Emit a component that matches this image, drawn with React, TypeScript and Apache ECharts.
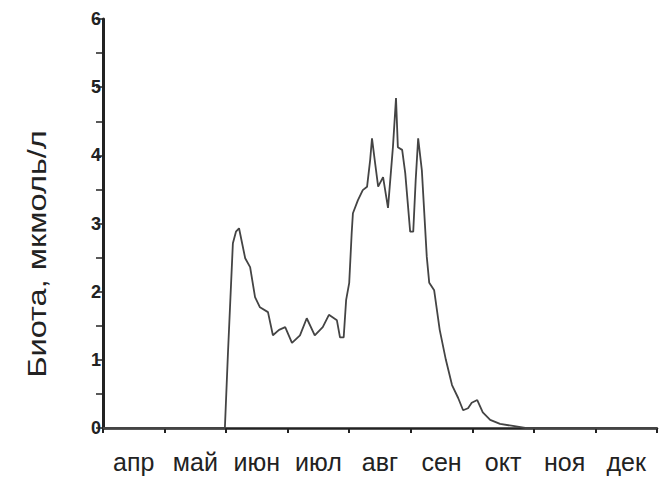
import React, { useEffect, useRef } from "react";
import * as echarts from "echarts";

const months = ["апр", "май", "июн", "июл", "авг", "сен", "окт", "ноя", "дек"];
const yTicks = [0, 1, 2, 3, 4, 5, 6];
// time in months since 1 April
const monthPos = [
  0, 1.98, 2.03, 2.11, 2.16, 2.21, 2.31, 2.39, 2.47, 2.55, 2.68, 2.76, 2.86, 2.96,
  3.07, 3.2, 3.31, 3.44, 3.57, 3.67, 3.8, 3.85, 3.91, 3.95, 4.0, 4.04, 4.06, 4.14,
  4.22, 4.29, 4.34, 4.37, 4.42, 4.47, 4.55, 4.63, 4.71, 4.76, 4.79, 4.86, 4.91,
  4.99, 5.04, 5.08, 5.12, 5.18, 5.26, 5.3, 5.38, 5.47, 5.57, 5.67, 5.77, 5.85,
  5.93, 5.99, 6.08, 6.17, 6.29, 6.45, 6.66, 6.86, 9,
];
// biota, µmol/l
const biota = [
  0, 0, 1.1, 2.71, 2.88, 2.93, 2.49, 2.36, 1.92, 1.77, 1.7, 1.36, 1.44, 1.48,
  1.25, 1.36, 1.61, 1.36, 1.48, 1.66, 1.58, 1.33, 1.33, 1.88, 2.13, 2.86, 3.15, 3.34,
  3.49, 3.54, 3.93, 4.25, 3.89, 3.54, 3.68, 3.23, 4.12, 4.84, 4.12, 4.08, 3.74,
  2.88, 2.88, 3.64, 4.25, 3.78, 2.51, 2.13, 2.02, 1.44, 1.0, 0.63, 0.44, 0.26,
  0.29, 0.37, 0.41, 0.23, 0.12, 0.06, 0.03, 0, 0,
];
const yTitle = "Биота, мкмоль/л";

export default function App() {
  const ref = useRef<HTMLDivElement>(null);
  useEffect(() => {
    const chart = echarts.init(ref.current!, null, { renderer: "svg" });
    const axisColor = "#222222";
    chart.setOption({
      animation: false,
      backgroundColor: "#ffffff",
      grid: { left: 103, top: 19, right: 7, bottom: 51, containLabel: false },
      xAxis: [
        {
          type: "value",
          min: 0,
          max: 9,
          interval: 1,
          axisLine: { show: true, onZero: false, lineStyle: { color: axisColor, width: 2.5 } },
          axisTick: { show: true, length: 5, lineStyle: { color: axisColor, width: 2 } },
          axisLabel: { show: false },
          splitLine: { show: false },
        },
        {
          type: "category",
          data: months,
          boundaryGap: true,
          position: "bottom",
          axisLine: { show: false },
          axisTick: { show: false },
          axisLabel: {
            show: true,
            interval: 0,
            hideOverlap: false,
            margin: 21,
            color: "#222222",
            fontSize: 25,
            fontFamily: "Liberation Sans, Arial, sans-serif",
          },
          splitLine: { show: false },
        },
      ],
      yAxis: {
        type: "value",
        min: 0,
        max: 6,
        interval: 0.5,
        axisLine: { show: true, lineStyle: { color: axisColor, width: 3 } },
        axisTick: { show: true, length: 7, lineStyle: { color: axisColor, width: 1.5 } },
        axisLabel: {
          margin: 2,
          color: "#222222",
          fontSize: 18,
          fontWeight: "bold",
          fontFamily: "Liberation Sans, Arial, sans-serif",
          formatter: (v: number) => (yTicks.includes(v) ? String(v) : ""),
        },
        splitLine: { show: false },
      },
      graphic: [
        {
          type: "text",
          x: 37,
          y: 254,
          rotation: Math.PI / 2,
          scaleX: 1.25,
          style: {
            text: yTitle,
            fontSize: 26,
            fontFamily: "Liberation Sans, Arial, sans-serif",
            fill: "#222222",
            align: "center",
            verticalAlign: "middle",
          },
        },
      ],
      series: [
        {
          type: "line",
          xAxisIndex: 0,
          data: monthPos.map((m, i) => [m, biota[i]]),
          showSymbol: false,
          symbol: "none",
          lineStyle: { color: "#444444", width: 1.8 },
          z: 3,
        },
      ],
    });
    return () => chart.dispose();
  }, []);
  return <div ref={ref} style={{ width: 664, height: 479, position: "absolute", left: 0, top: 0 }} />;
}
